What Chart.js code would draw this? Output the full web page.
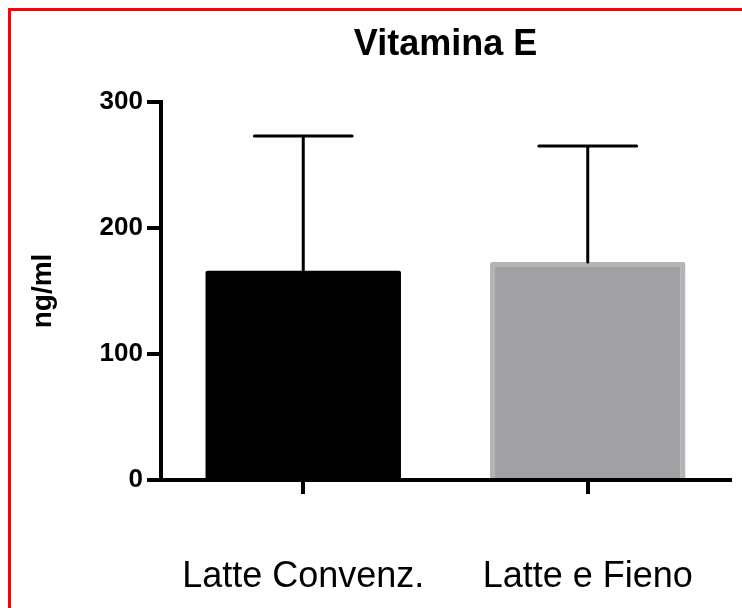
<!DOCTYPE html>
<html>
<head>
<meta charset="utf-8">
<script src="https://cdn.jsdelivr.net/npm/chart.js@4/dist/chart.umd.min.js"></script>
<style>
  html, body { margin: 0; padding: 0; background: #ffffff; }
  #wrap { width: 742px; height: 608px; position: relative; }
</style>
</head>
<body>
<div id="wrap"><canvas id="c" width="742" height="608"></canvas></div>
<script>
const categories = ['Latte Convenz.', 'Latte e Fieno'];
const means = [166, 173];
const errors = [107, 92];
const yTicks = [0, 100, 200, 300];
const chartTitle = 'Vitamina E';
const yTitle = 'ng/ml';

const errorBars = {
  id: 'errorBars',
  afterDatasetsDraw(chart) {
    const ctx = chart.ctx;
    const meta = chart.getDatasetMeta(0);
    const ys = chart.scales.y;
    ctx.save();
    ctx.strokeStyle = '#000';
    ctx.lineWidth = 3;
    ctx.lineCap = 'round';
    meta.data.forEach((bar, i) => {
      const top = ys.getPixelForValue(means[i] + errors[i]);
      const half = bar.width / 4;
      ctx.beginPath();
      ctx.moveTo(bar.x, bar.y);
      ctx.lineTo(bar.x, top);
      ctx.moveTo(bar.x - half, top);
      ctx.lineTo(bar.x + half, top);
      ctx.stroke();
    });
    ctx.restore();
  }
};

const frame = {
  id: 'frame',
  afterDraw(chart) {
    const ctx = chart.ctx;
    ctx.save();
    ctx.strokeStyle = '#ff0000';
    ctx.lineWidth = 3;
    ctx.beginPath();
    ctx.moveTo(9.5, chart.height);
    ctx.lineTo(9.5, 9.5);
    ctx.lineTo(chart.width, 9.5);
    ctx.stroke();
    ctx.restore();
  }
};

new Chart(document.getElementById('c'), {
  type: 'bar',
  data: {
    labels: categories,
    datasets: [{
      data: means,
      backgroundColor: ['#000000', '#a1a1a5'],
      borderColor: ['#000000', '#b4b4b4'],
      borderWidth: [0, 5],
      borderSkipped: 'bottom',
      borderRadius: 2,
      categoryPercentage: 1,
      barPercentage: 0.687
    }]
  },
  options: {
    responsive: false,
    animation: false,
    events: [],
    layout: { padding: { left: 0, right: 12, top: 0, bottom: 0 } },
    plugins: {
      legend: { display: false },
      tooltip: { enabled: false },
      title: {
        display: true,
        text: chartTitle,
        fullSize: false,
        color: '#000',
        font: { family: "'Liberation Sans', Arial, sans-serif", size: 36, weight: 'bold' },
        padding: { top: 23.4, bottom: 35.4 }
      }
    },
    scales: {
      x: {
        offset: true,
        afterFit(scale) { scale.height = 128; scale.paddingLeft = 0; scale.paddingRight = 0; },
        border: { display: true, color: '#000', width: 4, z: 1 },
        grid: {
          display: true, drawOnChartArea: false, drawTicks: true, offset: false,
          tickLength: 14, tickWidth: 4, tickColor: '#000', lineWidth: 4, color: '#000'
        },
        ticks: {
          color: '#000', padding: 61, maxRotation: 0, autoSkip: false,
          font: { family: "'Liberation Sans', Arial, sans-serif", size: 36, weight: 'normal' }
        }
      },
      y: {
        min: 0, max: 300,
        afterFit(scale) { scale.width = 161; scale.paddingTop = 0; scale.paddingBottom = 0; },
        afterBuildTicks(scale) { scale.ticks = yTicks.map(v => ({ value: v })); },
        border: { display: true, color: '#000', width: 4, z: 1 },
        grid: {
          display: true, drawOnChartArea: false, drawTicks: true,
          tickLength: 14, tickWidth: 4, tickColor: '#000', lineWidth: 4, color: '#000'
        },
        ticks: {
          color: '#000', padding: 4,
          font: { family: "'Liberation Sans', Arial, sans-serif", size: 26, weight: 'bold' }
        },
        title: {
          display: true, text: yTitle, color: '#000',
          font: { family: "'Liberation Sans', Arial, sans-serif", size: 28, weight: 'bold' },
          padding: { top: 26, bottom: 0 }
        }
      }
    }
  },
  plugins: [errorBars, frame]
});
</script>
</body>
</html>
